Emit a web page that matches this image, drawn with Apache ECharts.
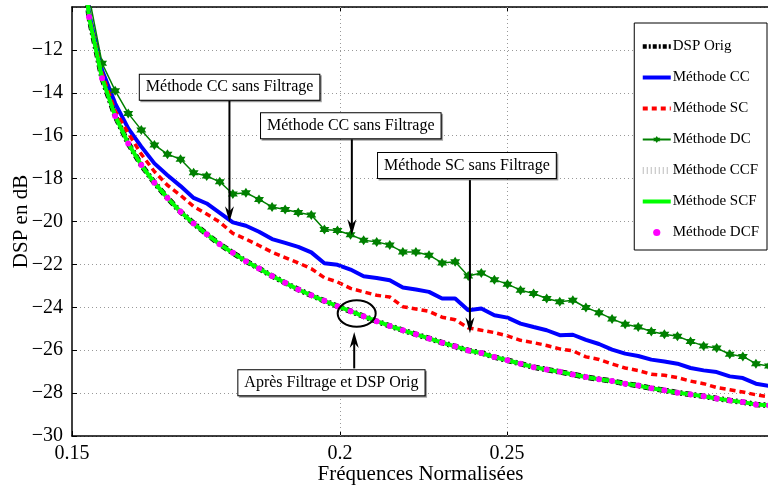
<!DOCTYPE html>
<html><head><meta charset="utf-8">
<script src="https://cdn.jsdelivr.net/npm/echarts@6/dist/echarts.min.js"></script>
<style>html,body{margin:0;padding:0;background:#fff}#c{width:768px;height:488px}</style>
</head><body><div id="c"></div><script>
// sample index along the frequency axis (uniform spacing in the plot)
const sampleIndex = [-1,0,1,2,3,4,5,6,7,8,9,10,11,12,13,14,15,16,17,18,19,20,21,22,23,24,25,26,27,28,29,30,31,32,33,34,35,36,37,38,39,40,41,42,43,44,45,46,47,48,49,50,51,52];
// x tick positions (in sample index units) and their labels
const xTickPos = [-1.3, 19.19, 31.96];
const xTickLabels = ['0.15', '0.2', '0.25'];

const dspOrig = [-4.3,-10.47,-13.32,-15.08,-16.36,-17.37,-18.19,-18.90,-19.55,-20.09,-20.59,-21.06,-21.46,-21.85,-22.19,-22.54,-22.86,-23.17,-23.44,-23.70,-23.95,-24.18,-24.42,-24.65,-24.87,-25.07,-25.26,-25.45,-25.65,-25.82,-26.01,-26.13,-26.32,-26.47,-26.63,-26.79,-26.90,-27.01,-27.13,-27.25,-27.35,-27.44,-27.56,-27.65,-27.77,-27.87,-27.98,-28.06,-28.15,-28.25,-28.34,-28.42,-28.53,-28.57];
const methodeCC = [-4.2,-10.3,-12.95,-14.49,-15.66,-16.51,-17.29,-17.84,-18.35,-18.90,-19.16,-19.60,-20.04,-20.20,-20.48,-20.82,-21.00,-21.18,-21.44,-21.95,-22.02,-22.24,-22.55,-22.63,-22.74,-23.08,-23.17,-23.28,-23.59,-23.59,-24.14,-24.06,-24.37,-24.48,-24.76,-24.92,-25.07,-25.30,-25.28,-25.52,-25.71,-25.97,-26.16,-26.27,-26.44,-26.53,-26.63,-26.83,-26.94,-27.02,-27.22,-27.30,-27.56,-27.67];
const methodeSC = [-4.25,-10.4,-13.1,-14.85,-15.88,-16.86,-17.67,-18.31,-18.78,-19.30,-19.65,-20.03,-20.55,-20.82,-21.12,-21.43,-21.68,-21.93,-22.20,-22.62,-22.82,-23.12,-23.28,-23.44,-23.52,-23.97,-24.08,-24.19,-24.46,-24.58,-24.96,-25.07,-25.18,-25.33,-25.54,-25.65,-25.78,-25.94,-26.03,-26.31,-26.43,-26.64,-26.83,-26.95,-27.12,-27.17,-27.28,-27.44,-27.56,-27.74,-27.84,-27.95,-28.08,-28.17];
const methodeDC = [-4.0,-9.5,-12.62,-13.90,-14.96,-15.73,-16.43,-16.86,-17.10,-17.73,-17.88,-18.15,-18.72,-18.66,-18.97,-19.32,-19.44,-19.58,-19.70,-20.37,-20.42,-20.62,-20.87,-20.95,-21.10,-21.42,-21.42,-21.57,-21.93,-21.88,-22.54,-22.40,-22.71,-22.92,-23.20,-23.36,-23.59,-23.74,-23.67,-24.01,-24.25,-24.54,-24.79,-24.92,-25.13,-25.26,-25.35,-25.59,-25.80,-25.90,-26.19,-26.29,-26.63,-26.74];
// filtered methods coincide with the original DSP
const methodeCCF = dspOrig.slice();
const methodeSCF = dspOrig.slice();
const methodeDCF = dspOrig.slice();

const annotBoxes = [
  {text: 'Méthode CC sans Filtrage', x: 10.75, y: -13.74},
  {text: 'Méthode CC sans Filtrage', x: 20.02, y: -15.54},
  {text: 'Méthode SC sans Filtrage', x: 28.9, y: -17.39},
  {text: 'Après Filtrage et DSP Orig', x: 18.54, y: -27.52}
];
const annotArrows = [
  {x: 10.74, from: -14.38, to: -20.03},
  {x: 20.1, from: -16.17, to: -20.64},
  {x: 29.13, from: -18.07, to: -25.21},
  {x: 20.28, from: -26.85, to: -25.15}
];
const annotEllipse = {x: 20.47, y: -24.29};

const FONT = 'Liberation Serif';
const pairs = v => sampleIndex.map((x, i) => [x, v[i]]);
const star = 'path://M0,-10L2.887,-5L8.66,-5L5.774,0L8.66,5L2.887,5L0,10L-2.887,5L-8.66,5L-5.774,0L-8.66,-5L-2.887,-5Z';

const chart = echarts.init(document.getElementById('c'), null, {renderer: 'canvas'});
const xMin = -1.3, xMax = 52.0;
const noSym = {opacity: 0};
const option = {
  animation: false,
  backgroundColor: '#fff',
  grid: {left: 72, right: -1, top: 7, bottom: 52, containLabel: false, outerBoundsMode: 'none'},
  xAxis: [{
    type: 'value', min: xMin, max: xMax, position: 'bottom',
    name: 'Fréquences Normalisées', nameLocation: 'middle', nameGap: 28, nameMoveOverlap: false,
    nameTextStyle: {fontFamily: FONT, fontSize: 21, color: '#000'},
    axisLine: {show: true, onZero: false, lineStyle: {color: '#000', width: 1.5}},
    axisTick: {show: true, inside: true, length: 5, customValues: xTickPos, lineStyle: {color: '#000'}},
    axisLabel: {show: true, customValues: xTickPos, margin: 8, fontFamily: FONT, fontSize: 20, color: '#000',
      formatter: v => { let best = 0; xTickPos.forEach((p, i) => { if (Math.abs(p - v) < Math.abs(xTickPos[best] - v)) best = i; }); return xTickLabels[best]; }},
    splitLine: {show: false}
  }, {
    type: 'value', min: xMin, max: xMax, position: 'top',
    axisLine: {show: true, onZero: false, lineStyle: {color: '#000', width: 1.5}},
    axisTick: {show: true, inside: true, length: 5, customValues: xTickPos, lineStyle: {color: '#000'}},
    axisLabel: {show: false}, splitLine: {show: false}
  }],
  yAxis: {
    type: 'value', min: -30, max: -10, interval: 2, position: 'left',
    name: 'DSP en dB', nameLocation: 'middle', nameGap: 40, nameRotate: 90, nameMoveOverlap: false,
    nameTextStyle: {fontFamily: FONT, fontSize: 21, color: '#000'},
    axisLine: {show: true, onZero: false, lineStyle: {color: '#000', width: 1.5}},
    axisTick: {show: true, inside: true, length: 5, lineStyle: {color: '#000'}},
    axisLabel: {showMaxLabel: false, margin: 9, fontFamily: FONT, fontSize: 20, color: '#000',
      formatter: v => String(v).replace('-', '\u2212')},
    splitLine: {show: true, lineStyle: {color: '#999', width: 1, type: [1, 3]}}
  },
  legend: {
    orient: 'vertical', right: 1, top: 23,
    data: [
      {name: 'DSP Orig', itemStyle: noSym, lineStyle: {width: 4.5, type: [4, 2, 2, 2]}},
      {name: 'Méthode CC', itemStyle: noSym, lineStyle: {width: 4}},
      {name: 'Méthode SC', itemStyle: noSym, lineStyle: {width: 4, type: [5, 4]}},
      {name: 'Méthode DC', lineStyle: {width: 2}},
      {name: 'Méthode CCF', itemStyle: noSym, lineStyle: {width: 7, type: [1, 3], color: '#bdbdbd'}},
      {name: 'Méthode SCF', itemStyle: noSym, lineStyle: {width: 4}},
      {name: 'Méthode DCF'}
    ],
    backgroundColor: '#fff', borderColor: '#000', borderWidth: 1, borderRadius: 0,
    padding: [16, 8, 10, 5], itemGap: 16, itemWidth: 28, itemHeight: 9,
    textStyle: {fontFamily: FONT, fontSize: 15, color: '#000', padding: [0, 0, 0, -3]}
  },
  series: [
    {name: 'DSP Orig', type: 'line', data: pairs(dspOrig), symbol: 'none', z: 2,
      lineStyle: {color: '#000', width: 5.5, type: [6, 3, 2, 3]}, itemStyle: {color: '#000'}},
    {name: 'Méthode CC', type: 'line', data: pairs(methodeCC), symbol: 'none', z: 3,
      lineStyle: {color: '#0000ff', width: 4}, itemStyle: {color: '#0000ff'}},
    {name: 'Méthode SC', type: 'line', data: pairs(methodeSC), symbol: 'none', z: 4,
      lineStyle: {color: '#ff0000', width: 3.5, type: [6, 4]}, itemStyle: {color: '#ff0000'}},
    {name: 'Méthode DC', type: 'line', data: pairs(methodeDC), symbol: star, symbolSize: 10, z: 5,
      lineStyle: {color: '#008000', width: 1.5}, itemStyle: {color: '#008000'}},
    {name: 'Méthode CCF', type: 'line', data: pairs(methodeCCF), symbol: 'none', z: 6,
      lineStyle: {color: '#b8b8b8', width: 4, type: [1, 2]}, itemStyle: {color: '#b8b8b8'}},
    {name: 'Méthode SCF', type: 'line', data: pairs(methodeSCF), symbol: 'none', z: 7,
      lineStyle: {color: '#00ff00', width: 4}, itemStyle: {color: '#00ff00'}},
    {name: 'Méthode DCF', type: 'line', data: pairs(methodeDCF), symbol: 'circle', symbolSize: 6, z: 8,
      lineStyle: {width: 0, opacity: 0}, itemStyle: {color: '#ff00ff'}},
    {name: 'grid-x', type: 'line', data: [], silent: true,
      markLine: {silent: true, symbol: 'none', label: {show: false},
        lineStyle: {color: '#999', width: 1, type: [1, 3]},
        data: xTickPos.slice(1).map(p => ({xAxis: p}))}}
  ]
};
chart.setOption(option);

const px = (x, y) => chart.convertToPixel({xAxisIndex: 0, yAxisIndex: 0}, [x, y]);
const graphics = [];
annotArrows.forEach(a => {
  const p0 = px(a.x, a.from), p1 = px(a.x, a.to);
  const dir = p1[1] > p0[1] ? 1 : -1;
  graphics.push({type: 'line', z: 100, shape: {x1: p0[0], y1: p0[1], x2: p1[0], y2: p1[1] - dir * 8},
    style: {stroke: '#000', lineWidth: 2}});
  graphics.push({type: 'polygon', z: 100, shape: {points: [
      [p1[0], p1[1]], [p1[0] - 4.5, p1[1] - dir * 16], [p1[0], p1[1] - dir * 11], [p1[0] + 4.5, p1[1] - dir * 16]]},
    style: {fill: '#000'}});
});
annotBoxes.forEach(b => {
  const p = px(b.x, b.y);
  graphics.push({type: 'text', z: 101, x: p[0], y: p[1], style: {
    text: b.text, font: '16px "Liberation Serif"', fill: '#000', align: 'center', verticalAlign: 'middle',
    backgroundColor: '#fff', borderColor: '#000', borderWidth: 1, padding: [5, 6, 4, 6],
    shadowColor: 'rgba(0,0,0,0.35)', shadowOffsetX: 1.5, shadowOffsetY: 1.5, shadowBlur: 0}});
});
const pe = px(annotEllipse.x, annotEllipse.y);
graphics.push({type: 'ellipse', z: 100, shape: {cx: pe[0], cy: pe[1], rx: 19, ry: 13.3},
  style: {fill: 'none', stroke: '#000', lineWidth: 2}});
chart.setOption({graphic: graphics});
</script></body></html>
